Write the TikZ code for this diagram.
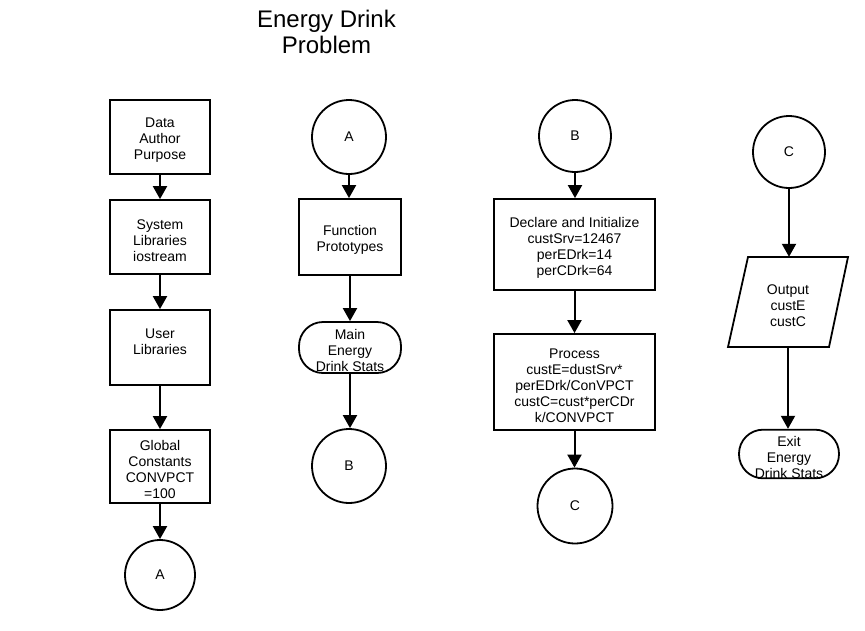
\documentclass[tikz,border=0pt]{standalone}
\usepackage{fontspec}
\setmainfont{Liberation Sans}
\usetikzlibrary{arrows.meta}
\newcommand{\tup}{\rule{0pt}{16.5pt}}
\begin{document}
\begin{tikzpicture}[x=1pt,y=-1pt,
  txt/.style={font=\fontsize{14}{16}\selectfont, align=center, inner sep=0pt},
  procbox/.style={txt, draw, line width=1.8pt, minimum width=100pt},
  conn/.style={txt, draw, circle, line width=1.8pt, minimum size=#1},
  term/.style={txt, draw, line width=1.8pt, rounded corners=24pt, minimum width=102pt},
  flow/.style={line width=2pt, -{Triangle[width=14pt,length=13pt]}}
]
\useasboundingbox (0,0) rectangle (865,630);
\fill[white] (0,0) rectangle (865,630);

\node[inner sep=0pt, align=center, font=\fontsize{24}{26}\selectfont] (title) at (326.5,32) {Energy Drink\\Problem};

% column 1
\node[procbox, minimum height=74pt] (d1) at (160,137) {\tup Data\\Author\\Purpose};
\node[procbox, minimum height=74pt] (d2) at (160,237) {\tup System\\Libraries\\iostream};
\node[procbox, minimum height=75pt] (d3) at (160,347.5) {User\\Libraries\rule[-12pt]{0pt}{0pt}};
\node[procbox, minimum height=73pt] (d4) at (160,466.5) {\tup Global\\Constants\\CONVPCT\\=100};
\node[conn=70pt] (a1) at (160,575) {A};

% column 2
\node[conn=74pt] (a2) at (349,137) {A};
\node[procbox, minimum width=102pt, minimum height=76pt] (fp) at (350,237) {\tup Function\\Prototypes};
\node[term, minimum height=51pt] (mn) at (350,347.5) {\tup Main\\Energy\\Drink Stats};
\node[conn=74pt] (b1) at (349,466) {B};

% column 3
\node[conn=72pt] (b2) at (575,136) {B};
\node[procbox, minimum width=161pt, minimum height=91pt] (dc) at (574.5,244.5) {\tup Declare and Initialize\\custSrv=12467\\perEDrk=14\\perCDrk=64};
\node[procbox, minimum width=161pt, minimum height=96pt] (pr) at (574.5,382) {\tup Process\\custE=dustSrv*\\perEDrk/ConVPCT\\custC=cust*perCDr\\k/CONVPCT};
\node[conn=75pt] (c1) at (575,506) {C};

% column 4
\node[conn=72pt] (c2) at (789,152) {C};
\node[txt, minimum width=80pt, minimum height=90pt] (out) at (788,302) {\tup Output\\custE\\custC};
\draw[line width=1.8pt, line join=miter] (748,257) -- (848,257) -- (829,347) -- (728,347) -- cycle;
\node[term, minimum width=100pt, minimum height=48pt] (ex) at (789,454) {\tup Exit\\Energy\\Drink Stats};

% connectors
\draw[flow] (d1) -- (d2);
\draw[flow] (d2) -- (d3);
\draw[flow] (d3) -- (d4);
\draw[flow] (d4) -- (a1);
\draw[flow] (a2) -- (a2 |- fp.north);
\draw[flow] (fp) -- (fp |- mn.north);
\draw[flow] (mn) -- (mn |- b1.north);
\draw[flow] (b2) -- (b2 |- dc.north);
\draw[flow] (dc) -- (dc |- pr.north);
\draw[flow] (pr) -- (pr |- c1.north);
\draw[flow] (c2) -- (c2 |- out.north);
\draw[flow] (out) -- (out |- ex.north);
\end{tikzpicture}
\end{document}
